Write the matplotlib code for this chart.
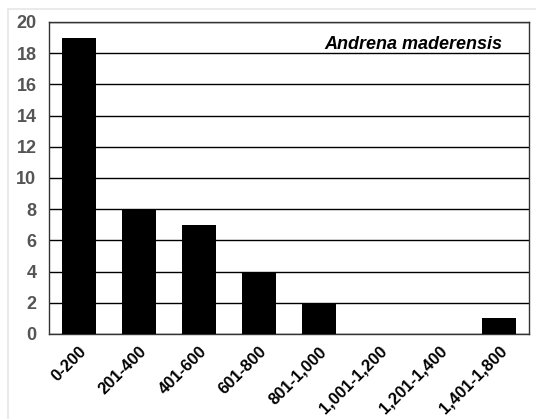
import matplotlib
matplotlib.use('Agg')
import matplotlib.pyplot as plt
from matplotlib.patches import Rectangle

categories = ['0-200', '201-400', '401-600', '601-800', '801-1,000',
              '1,001-1,200', '1,201-1,400', '1,401-1,800']
counts = [19, 8, 7, 4, 2, 0, 0, 1]
yticks = [0, 2, 4, 6, 8, 10, 12, 14, 16, 18, 20]

plt.rcParams['font.family'] = ['Liberation Sans', 'DejaVu Sans']

fig = plt.figure(figsize=(5.36, 4.19), dpi=100)
ax = fig.add_axes([0.0914, 0.2029, 0.8956, 0.7446])

# faint outer frame
fig.patches.append(Rectangle((8 / 536, -0.1), 1.2, (410 / 419) + 0.1,
                             transform=fig.transFigure, fill=False,
                             edgecolor='#e6e6e6', linewidth=1.2))

x = list(range(len(categories)))
ax.bar(x, counts, width=0.57, color='black', zorder=3)
ax.set_xlim(-0.5, len(categories) - 0.5)
ax.set_ylim(0, 20)
ax.set_yticks(yticks)
ax.set_yticklabels([str(t) for t in yticks], fontsize=13, fontweight='bold', color='#555555')
ax.set_xticks(x)
ax.set_xticklabels(categories, rotation=45, ha='right', rotation_mode='anchor',
                   fontsize=12, fontweight='bold')
ax.tick_params(axis='x', length=0, pad=7)
ax.tick_params(axis='y', length=0, pad=9)
ax.yaxis.grid(True, color='black', linewidth=1.0, zorder=0)
for s in ax.spines.values():
    s.set_color('#333333')
    s.set_linewidth(1.0)

ax.text(0.945, 0.955, 'Andrena maderensis', transform=ax.transAxes,
        ha='right', va='top', fontsize=13, fontweight='bold', style='italic')

fig.savefig('out.png', dpi=100)
